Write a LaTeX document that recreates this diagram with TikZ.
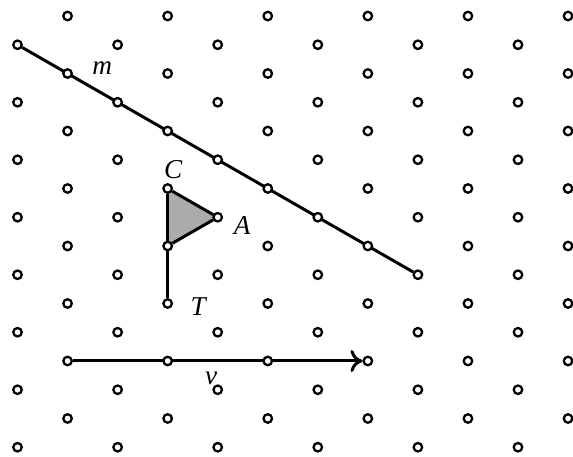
\documentclass[tikz,border=0pt]{standalone}
\usepackage{fontspec}
\setmainfont{Liberation Serif}
\usepackage{tikz}
\usetikzlibrary{positioning, arrows.meta, backgrounds}
\tikzstyle{Dot} = [circle, minimum size = 0.17cm, inner sep = 0cm, draw = black, line width = 1.3pt, fill = white]
\tikzstyle{Lab} = [inner sep = 0cm, font = \fontsize{15.5}{18}\selectfont\itshape]
\tikzstyle{Edge} = [line width = 1.7pt, black]

\begin{document}
\begin{tikzpicture}[x = 1.001cm, y = -0.575cm]

    \useasboundingbox (-0.35, -0.557) rectangle (11.099, 15.339);

    %%%%%%%%%%%%%%%%%%%%%%
    % lattice points
    \foreach \c in {0,...,11} {
        \pgfmathtruncatemacro{\rfirst}{mod(\c+1,2)}
        \pgfmathtruncatemacro{\rnext}{\rfirst+2}
        \foreach \r in {\rfirst,\rnext,...,15}
            \node[Dot] (p\c-\r) at (\c,\r) {};
    }

    %%%%%%%%%%%%%%%%%%%%%%
    \begin{scope}[on background layer]
        \fill [black!33] (p3-6.center) -- (p4-7.center) -- (p3-8.center) -- cycle;
        \draw [Edge] (p0-1) -- (p8-9);
        \draw [Edge] (p3-6) -- (p4-7);
        \draw [Edge] (p4-7) -- (p3-8);
        \draw [Edge] (p3-8) -- (p3-6);
        \draw [Edge] (p3-8) -- (p3-10);
        \draw [Edge, -{To[length=2.4mm, width=4.4mm]}] (p1-12) -- (p7-12);
    \end{scope}

    %%%%%%%%%%%%%%%%%%%%%%
    \node[Lab] (mlab) at (1.69, 1.81) {m};
    \node[Lab] (clab) at (3.11, 5.36) {C};
    \node[Lab] (alab) at (4.49, 7.27) {A};
    \node[Lab] (tlab) at (3.61, 10.12) {T};
    \node[Lab] (vlab) at (3.87, 12.59) {v};

\end{tikzpicture}
\end{document}
